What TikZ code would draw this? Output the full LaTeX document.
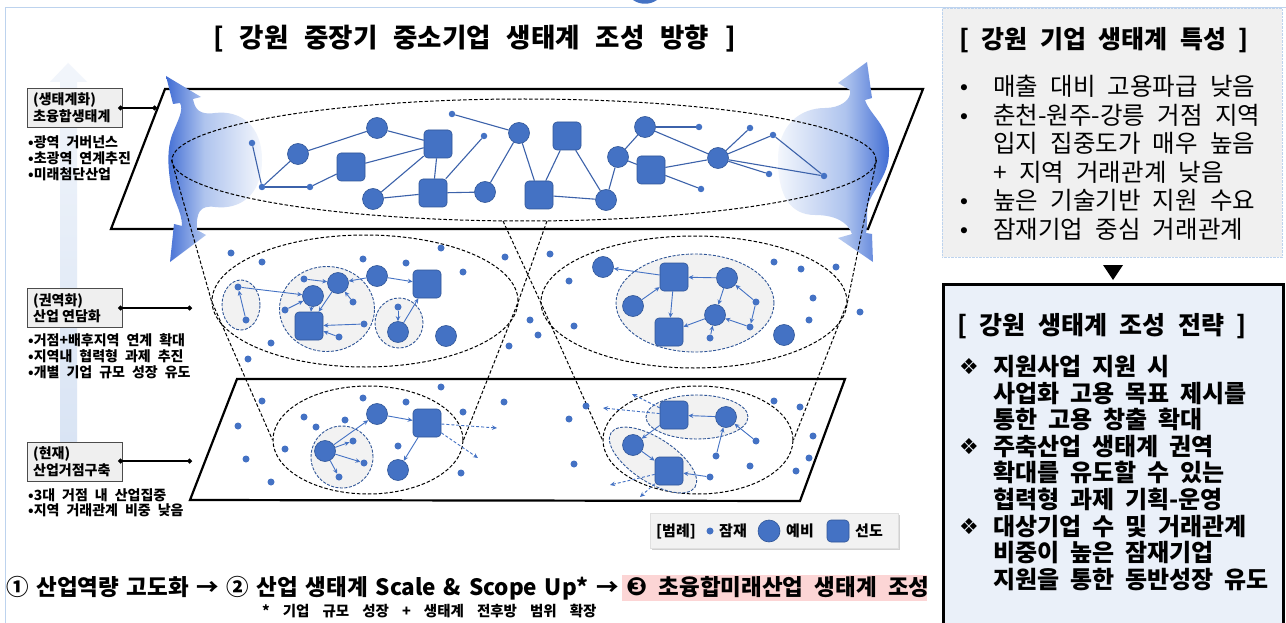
\documentclass[tikz,border=0pt]{standalone}
\usepackage{fontspec}
\setmainfont{Noto Sans CJK KR}
\newfontfamily\dv{DejaVu Sans}
\usetikzlibrary{arrows.meta,shapes.geometric}
\definecolor{nb}{HTML}{4472C4}
\definecolor{nbd}{HTML}{2F5597}
\definecolor{tl}{HTML}{3C62AA}
\definecolor{gfill}{HTML}{F2F2F2}
\definecolor{lgray}{HTML}{EFEFEF}
\definecolor{rgray}{HTML}{F0F0F0}
\definecolor{sblue}{HTML}{EAF0F9}
\definecolor{frameblue}{HTML}{BDD3EE}
\definecolor{abl}{HTML}{D9E4F4}
\definecolor{bb}{HTML}{2F5FD0}
\definecolor{lbb}{HTML}{AFC4EE}
\definecolor{pinkhl}{HTML}{FCD5D5}
\pgfdeclarehorizontalshading{burstL}{100bp}{color(0bp)=(bb); color(22bp)=(bb); color(45bp)=(lbb); color(80bp)=(white); color(100bp)=(white)}
\pgfdeclarehorizontalshading{burstR}{100bp}{color(0bp)=(white); color(20bp)=(white); color(55bp)=(lbb); color(78bp)=(bb); color(100bp)=(bb)}
\newcommand\setfs[2]{\fontsize{#1}{#2}\selectfont}
\newcommand\wsp[1]{\spaceskip=#1em\relax}
\begin{document}
\begin{tikzpicture}[x=1pt,y=-1pt,
  potnode/.style={circle, fill=nb, inner sep=0pt, minimum size=7pt},
  tpot/.style={circle, fill=nb, inner sep=0pt, minimum size=6.5pt},
  prenode/.style={circle, fill=nb, draw=nbd, line width=0.6pt, inner sep=0pt, minimum size=21pt},
  leadnode/.style={rectangle, rounded corners=4pt, fill=nb, draw=nbd, line width=0.6pt, inner sep=0pt, minimum size=28pt},
  tline/.style={draw=tl, line width=1.1pt},
  arw/.style={draw=nb, line width=0.9pt, -{Stealth[length=5pt,width=4.5pt]}},
  darw/.style={arw, dash pattern=on 3pt off 2pt},
  gell/.style={ellipse, draw=nbd, dash pattern=on 3pt off 1.5pt, fill=gfill, line width=0.9pt, inner sep=0pt},
  bell/.style={ellipse, draw=black, dash pattern=on 3.5pt off 2pt, line width=1pt, inner sep=0pt},
  fun/.style={draw=black, dash pattern=on 3.5pt off 2pt, line width=1pt},
  planeln/.style={draw=black, line width=2.2pt, line join=miter},
  txt/.style={inner sep=0pt, anchor=base west},
  lbox/.style={draw=black!70, fill=lgray, line width=0.8pt, minimum width=95pt, minimum height=39pt, inner sep=0pt},
  conn/.style={draw=black, line width=1.2pt, {Circle[length=5pt]}-{Circle[length=5pt]}},
]
\useasboundingbox (0,0) rectangle (1286,623);
\fill[white] (0,0) rectangle (1286,623);

% vertical background arrow
\shade[top color=abl!35!white, bottom color=abl] (60,442) -- (60,82) -- (50,82) -- (68,63) -- (87,82) -- (77,82) -- (77,442) -- cycle;

% frames
\draw[frameblue, line width=1pt] (5,623) -- (5,8) -- (1286,8);
\fill[nb] (633,0) .. controls (640,5) and (650,5) .. (657,0) -- cycle;

% top plane
\draw[planeln] (165,89) -- (923,89) -- (868,229) -- (111,229) -- cycle;

% bursts
\shade[shading=burstL] (166,76) -- (201,97) -- (193,99) .. controls (195,110) and (200,115) .. (215,113) .. controls (240,110) and (262,125) .. (262,160) .. controls (262,195) and (240,210) .. (215,207) .. controls (200,205) and (196,212) .. (197,230) -- (206,235) -- (170,262) -- (174,224) -- (182,226) .. controls (182,210) and (172,200) .. (170,180) .. controls (168,165) and (167,150) .. (172,135) .. controls (178,120) and (184,110) .. (180,103) -- (173,104) -- cycle;
\shade[shading=burstR] (867,62) -- (872,98) -- (865,100) .. controls (870,115) and (888,125) .. (889,150) .. controls (890,175) and (872,190) .. (868,205) .. controls (866,215) and (868,225) .. (866,233) -- (872,234) -- (873,262) -- (838,238) -- (852,234) .. controls (848,222) and (835,215) .. (815,215) .. controls (790,215) and (778,195) .. (778,160) .. controls (778,125) and (800,108) .. (825,108) .. controls (840,108) and (852,100) .. (850,90) -- (838,83) -- cycle;

% bottom plane
\draw[planeln] (237,379) -- (845,379) -- (800,501) -- (190,500) -- cycle;

% big dashed ellipses
\node[bell, minimum width=704pt, minimum height=122pt] (topE) at (524,160) {};
\node[bell, minimum width=306pt, minimum height=132pt] (mlE) at (365,301) {};
\node[bell, minimum width=306pt, minimum height=132pt] (mrE) at (694,302) {};
\node[bell, minimum width=190pt, minimum height=108pt] (blE) at (368,440) {};
\node[bell, minimum width=190pt, minimum height=108pt] (brE) at (698,440) {};
\coordinate (fa) at (547,221);
\coordinate (fb) at (503,221);
\draw[fun] (topE.west) -- (mlE.west) -- (blE.west);
\draw[fun] (fa) -- (mlE.east) -- (blE.east);
\draw[fun] (fb) -- (mrE.west) -- (brE.west);
\draw[fun] (topE.east) -- (mrE.east) -- (brE.east);

% ---------- top layer network
\node[tpot] (t1) at (252,143) {};
\node[prenode] (t2) at (298,154) {};
\node[tpot] (t3) at (262,187) {};
\node[tpot] (t4) at (310,187) {};
\node[leadnode] (t5) at (351,167) {};
\node[prenode] (t6) at (377,128) {};
\node[leadnode] (t7) at (438,144) {};
\node[prenode] (t8) at (373,199) {};
\node[leadnode] (t9) at (433,193) {};
\node[tpot] (t10) at (452,114) {};
\node[tpot] (t11) at (484,136) {};
\node[prenode] (t12) at (485,192) {};
\node[prenode] (t13) at (519,133) {};
\node[leadnode] (t14) at (539,195) {};
\node[leadnode] (t15) at (567,136) {};
\node[prenode] (t16) at (606,200) {};
\node[prenode] (t17) at (618,157) {};
\node[leadnode] (t18) at (651,170) {};
\node[prenode] (t19) at (645,127) {};
\node[tpot] (t20) at (699,127) {};
\node[tpot] (t21) at (701,189) {};
\node[prenode] (t22) at (718,158) {};
\node[tpot] (t23) at (750,128) {};
\node[tpot] (t24) at (773,135) {};
\node[tpot] (t25) at (769,174) {};
\node[tpot] (t26) at (824,176) {};
\foreach \a/\b in {t1/t3,t3/t2,t3/t4,t4/t5,t2/t6,t6/t7,t5/t7,t8/t7,t7/t9,t8/t9,t9/t12,t9/t11,t12/t13,t10/t13,t13/t14,t14/t15,t15/t16,t14/t16,t16/t17,t17/t19,t17/t18,t19/t20,t19/t22,t18/t22,t18/t21,t22/t23,t22/t24,t22/t25,t22/t26,t24/t26}
  \draw[tline] (\a) -- (\b);

% ---------- middle layer: scattered potentials
\foreach \p [count=\i] in {(231,253),(262,262),(363,259),(406,263),(441,248),(463,272),(505,257),(271,343),(248,359),(530,320),(538,335),(509,346),(550,254),(569,281),(574,326),(774,262),(801,269),(836,267),(813,298),(860,312),(809,320)}
  \node[potnode] (ms\i) at \p {};

% middle-left clusters
\node[gell, minimum width=38pt, minimum height=50pt] (e1) at (241,305) {};
\node[gell, minimum width=95pt, minimum height=85pt] (e2) at (327,309) {};
\node[gell, minimum width=48pt, minimum height=50pt] (e3) at (399,323) {};
\node[potnode] (md1) at (238,287) {};
\node[potnode] (md2) at (246,320) {};
\node[potnode] (md3) at (304,279) {};
\node[potnode] (md4) at (285,310) {};
\node[potnode] (md5) at (353,302) {};
\node[potnode] (md6) at (364,324) {};
\node[potnode] (md7) at (339,337) {};
\node[potnode] (md8) at (398,307) {};
\node[prenode] (m1) at (313,296) {};
\node[prenode] (m2) at (338,283) {};
\node[leadnode] (m3) at (309,326) {};
\node[prenode] (m4) at (377,276) {};
\node[leadnode] (m5) at (427,284) {};
\node[prenode] (m6) at (398,332) {};
\node[prenode] (m7) at (446,336) {};
\foreach \a/\b in {md2/md1,md1/m1,md3/m2,md4/m1,m1/m3,m2/m3,md5/m2,md6/m3,md7/m3,m4/m2,m4/m5,md8/m6,m6/m5}
  \draw[arw] (\a) -- (\b);

% middle-right cluster
\node[gell, minimum width=158pt, minimum height=98pt] (e4) at (695,303) {};
\node[prenode] (r1) at (603,267) {};
\node[prenode] (r2) at (633,306) {};
\node[leadnode] (r3) at (674,277) {};
\node[prenode] (r4) at (727,278) {};
\node[leadnode] (r5) at (669,332) {};
\node[prenode] (r6) at (715,315) {};
\node[prenode] (r7) at (784,335) {};
\node[potnode] (rd1) at (756,302) {};
\node[potnode] (rd2) at (750,327) {};
\node[potnode] (rd3) at (710,338) {};
\foreach \a/\b in {r3/r1,r2/r3,r4/r3,r3/r5,r4/r6,rd1/r4,rd1/rd2,rd2/r6,rd3/r6,r6/r5}
  \draw[arw] (\a) -- (\b);

% ---------- bottom layer: scattered potentials
\foreach \p [count=\i] in {(262,401),(238,426),(246,459),(271,482),(304,417),(316,427),(345,420),(363,398),(406,402),(441,387),(463,412),(504,402),(285,449),(398,446),(461,473),(586,406),(569,419),(574,464),(774,401),(800,407),(813,436),(809,458),(796,471),(750,466)}
  \node[potnode] (bs\i) at \p {};

% bottom-left cluster
\node[gell, minimum width=62pt, minimum height=62pt] (e5) at (342,457) {};
\node[prenode] (b1) at (325,451) {};
\node[potnode] (bd1) at (353,441) {};
\node[potnode] (bd2) at (364,463) {};
\node[potnode] (bd3) at (339,477) {};
\node[prenode] (b2) at (377,414) {};
\node[leadnode] (b3) at (427,423) {};
\node[prenode] (b4) at (398,470) {};
\coordinate (bx1) at (497,428);
\coordinate (bx2) at (478,458);
\foreach \a/\b in {b1/b2,b1/bd1,b1/bd2,b1/bd3,b2/b3,b3/b4}
  \draw[arw] (\a) -- (\b);
\draw[darw] (b3) -- (bx1);
\draw[darw] (b3) -- (bx2);

% bottom-right cluster
\node[gell, minimum width=102pt, minimum height=44pt] (e6) at (697,417) {};
\node[gell, minimum width=100pt, minimum height=44pt, rotate=-33] (e7) at (653,460) {};
\node[leadnode] (d1) at (674,415) {};
\node[prenode] (d2) at (726,417) {};
\node[potnode] (dd1) at (756,441) {};
\node[potnode] (dd2) at (716,456) {};
\node[prenode] (d3) at (633,445) {};
\node[leadnode] (d4) at (669,471) {};
\node[potnode] (dd3) at (710,477) {};
\coordinate (dx1) at (603,408);
\coordinate (dx2) at (632,394);
\coordinate (dx3) at (610,485);
\coordinate (dx4) at (640,497);
\foreach \a/\b in {d2/d1,dd1/d2,dd2/d2,d1/d3,d3/d4,dd3/d4}
  \draw[arw] (\a) -- (\b);
\draw[darw] (d1) -- (dx1);
\draw[darw] (d1) -- (dx2);
\draw[darw] (d4) -- (dx3);
\draw[darw] (d4) -- (dx4);

% ---------- title
\node[txt, font=\bfseries\setfs{26.5}{30}\wsp{0.6}] (title) at (213,48) {[ 강원 중장기 중소기업 생태계 조성 방향 ]};

% ---------- left labels
\node[lbox, anchor=north west] (lb1) at (27,88) {};
\node[lbox, anchor=north west] (lb2) at (27,288) {};
\node[lbox, anchor=north west] (lb3) at (27,442) {};
\begin{scope}[every node/.append style={font=\bfseries\setfs{14}{16}}]
\node[txt] (lb1a) at (33,104.5) {(생태계화)};
\node[txt] (lb1b) at (33,121.5) {초융합생태계};
\node[txt] (lb2a) at (33,305) {(권역화)};
\node[txt] (lb2b) at (33,321.5) {산업 연담화};
\node[txt] (lb3a) at (33,458) {(현재)};
\node[txt] (lb3b) at (33,475) {산업거점구축};
\end{scope}
\coordinate (c1a) at (118,108); \coordinate (c1b) at (157,108);
\coordinate (c2a) at (118,308); \coordinate (c2b) at (192,308);
\coordinate (c3a) at (118,461); \coordinate (c3b) at (192,461);
\draw[conn] (c1a) -- (c1b);
\draw[conn] (c2a) -- (c2b);
\draw[conn] (c3a) -- (c3b);
\begin{scope}[every node/.append style={font=\bfseries\setfs{14}{16}\wsp{0.5}}]
\node[txt] (bl1) at (28,148) {•광역 거버넌스};
\node[txt] (bl2) at (28,163.5) {•초광역 연계추진};
\node[txt] (bl3) at (28,179) {•미래첨단산업};
\node[txt] (bl4) at (28,345) {•거점+배후지역 연계 확대};
\node[txt] (bl5) at (28,361) {•지역내 협력형 과제 추진};
\node[txt] (bl6) at (28,377) {•개별 기업 규모 성장 유도};
\node[txt] (bl7) at (28,500) {•3대 거점 내 산업집중};
\node[txt] (bl8) at (28,515.5) {•지역 거래관계 비중 낮음};
\end{scope}

% ---------- legend
\fill[black!18] (652,515) rectangle (900,550);
\node[draw=black!12, fill=gfill, anchor=north west, minimum width=248pt, minimum height=35pt, inner sep=0pt] (legbox) at (650,513) {};
\begin{scope}[every node/.append style={font=\bfseries\setfs{15}{17}}]
\node[txt] (lg0) at (656,536.5) {[범례]};
\node[txt] (lg2) at (719,536.5) {잠재};
\node[txt] (lg4) at (786,536.5) {예비};
\node[txt] (lg6) at (855,536.5) {선도};
\end{scope}
\node[potnode] (lg1) at (710,531) {};
\node[prenode, minimum size=22pt] (lg3) at (769,531) {};
\node[leadnode, minimum size=22pt] (lg5) at (838,531) {};

% ---------- bottom flow line
\node[fill=pinkhl, anchor=north west, minimum width=305pt, minimum height=26pt, inner sep=0pt] (hl) at (622,575) {};
\node[txt, font=\bfseries\setfs{22.5}{26}\wsp{0.34}] (flow1) at (6,595) {① 산업역량 고도화 → ② 산업 생태계 Scale \& Scope Up* →};
\node[txt, font=\bfseries\setfs{22.5}{26}\wsp{0.5}] (flow2) at (626,595) {{\dv\setfs{25}{26}❸} 초융합미래산업 생태계 조성};
\node[txt, font=\bfseries\setfs{14.5}{17}\wsp{0.9}] (flow3) at (262,616) {* 기업 규모 성장 + 생태계 전후방 범위 확장};

% ---------- right panel
\node[draw=frameblue, densely dotted, fill=rgray, anchor=north west, minimum width=340pt, minimum height=249pt, inner sep=0pt] (charbox) at (942,8) {};
\node[txt, font=\bfseries\setfs{25}{29}\wsp{0.5}] (rt1) at (959,49) {[ 강원 기업 생태계 특성 ]};
\begin{scope}[every node/.append style={font=\setfs{24.5}{29}\wsp{0.5}}]
\node[txt] (rc1) at (993,96) {매출 대비 고용파급 낮음};
\node[txt] (rc2) at (993,124.4) {춘천-원주-강릉 거점 지역};
\node[txt] (rc3) at (993,152.8) {입지 집중도가 매우 높음};
\node[txt] (rc4) at (993,181.2) {+ 지역 거래관계 낮음};
\node[txt] (rc5) at (993,209.6) {높은 기술기반 지원 수요};
\node[txt] (rc6) at (993,238) {잠재기업 중심 거래관계};
\end{scope}
\foreach \yy [count=\i] in {96,124.4,209.6,238}
  \node[inner sep=0pt, anchor=base, font=\dv\setfs{21}{24}] (rb\i) at (964,\yy) {•};
\fill[black] (1103,265) -- (1123,265) -- (1113,280) -- cycle;
\node[draw=black, line width=2.5pt, fill=sblue, anchor=north west, minimum width=340pt, minimum height=360pt, inner sep=0pt] (stratbox) at (942,283) {};
\node[txt, font=\bfseries\setfs{25}{29}\wsp{0.5}] (st1) at (957,334) {[ 강원 생태계 조성 전략 ]};
\begin{scope}[every node/.append style={font=\bfseries\setfs{24}{28}\wsp{0.45}}]
\node[txt] (sl1) at (993,375.5) {지원사업 지원 시};
\node[txt] (sl2) at (993,402.1) {사업화 고용 목표 제시를};
\node[txt] (sl3) at (993,428.7) {통한 고용 창출 확대};
\node[txt] (sl4) at (993,455.3) {주축산업 생태계 권역};
\node[txt] (sl5) at (993,481.9) {확대를 유도할 수 있는};
\node[txt] (sl6) at (993,508.5) {협력형 과제 기획-운영};
\node[txt] (sl7) at (993,535.1) {대상기업 수 및 거래관계};
\node[txt] (sl8) at (993,561.7) {비중이 높은 잠재기업};
\node[txt] (sl9) at (993,588.3) {지원을 통한 동반성장 유도};
\end{scope}
\foreach \yy [count=\i] in {374.5,454.3,534.1}
  \node[inner sep=0pt, anchor=base, font=\dv\setfs{22}{24}] (sd\i) at (969,\yy) {❖};
\end{tikzpicture}
\end{document}
